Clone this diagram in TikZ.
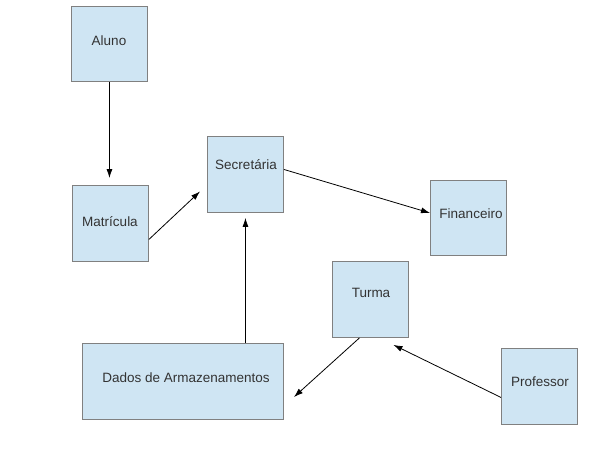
\documentclass[tikz,border=0pt]{standalone}
\usepackage{fontspec}
\setmainfont{Liberation Sans}
\usetikzlibrary{arrows.meta,calc}
\definecolor{boxfill}{HTML}{CFE5F3}
\definecolor{boxline}{HTML}{808080}
\definecolor{txt}{HTML}{333333}
\tikzset{
  box/.style={draw=boxline, fill=boxfill, line width=0.9pt, anchor=north west, inner sep=0pt},
  lbl/.style={text=txt, font=\fontsize{13.5}{15}\selectfont, inner sep=0pt},
  conn/.style={draw=black, line width=0.8pt, -{Latex[length=9pt,width=6pt]}}
}
\begin{document}
\begin{tikzpicture}[x=1pt,y=-1pt]
\useasboundingbox (0,0) rectangle (600,450);
% boxes
\node[box, minimum width=76pt, minimum height=75pt] (alu) at (71,6) {};
\node[box, minimum width=76pt, minimum height=76pt] (mat) at (72,185) {};
\node[box, minimum width=76pt, minimum height=76pt] (sec) at (207,136) {};
\node[box, minimum width=76pt, minimum height=75pt] (fin) at (430,180) {};
\node[box, minimum width=76pt, minimum height=76pt] (tur) at (332,261) {};
\node[box, minimum width=201pt, minimum height=76pt] (dad) at (82,343) {};
\node[box, minimum width=76pt, minimum height=76pt] (pro) at (501,348) {};
% texts
\node[lbl] (aluT) at (109,41) {Aluno};
\node[lbl] (matT) at (110,222) {Matrícula};
\node[lbl] (secT) at (246,165) {Secretária};
\node[lbl] (finT) at (471,214) {Financeiro};
\node[lbl] (turT) at (371,293) {Turma};
\node[lbl] (dadT) at (186,378) {Dados de Armazenamentos};
\node[lbl] (proT) at (540,382) {Professor};
% free end
\coordinate (tEnd) at (294,397);
% connectors
\draw[conn, shorten >=7pt] (alu.south) -- (alu.south |- mat.north);
\draw[conn] ([yshift=-16pt]mat.east) -- ([xshift=-7pt,yshift=-17pt]sec.west);
\draw[conn] ([yshift=5pt]sec.east) -- ([yshift=5pt]fin.west);
\draw[conn, shorten >=5pt] (dad.north -| sec.south) -- (sec.south);
\draw[conn] ([xshift=-11pt]tur.south) -- (tEnd);
\draw[conn] ([yshift=-11pt]pro.west) -- ([xshift=23pt,yshift=-7pt]tur.south);
\end{tikzpicture}
\end{document}
